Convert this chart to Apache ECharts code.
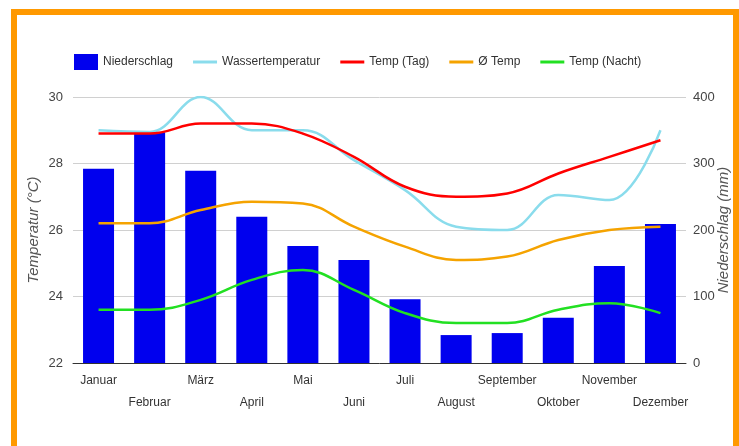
<!DOCTYPE html>
<html>
<head>
<meta charset="utf-8">
<script src="https://cdn.jsdelivr.net/npm/echarts@6/dist/echarts.min.js"></script>
<style>
  html, body { margin: 0; padding: 0; background: #fff; }
  #frame {
    position: absolute; left: 11px; top: 9px; width: 728px; height: 460px;
    box-sizing: border-box; border: 6px solid #ff9900; border-bottom: none;
  }
  #chart { position: absolute; left: 0; top: 0; width: 739px; height: 446px; }
</style>
</head>
<body>
<div id="frame"></div>
<div id="chart"></div>
<script>
// Monate
const months = ['Januar', 'Februar', 'März', 'April', 'Mai', 'Juni', 'Juli', 'August', 'September', 'Oktober', 'November', 'Dezember']
// Niederschlag in mm
const niederschlag = [292, 347, 289, 220, 176, 155, 96, 42, 45, 68, 146, 209]
// Temperaturen in °C
const wasserTemp = [29.0, 28.95, 30.0, 29.0, 29.0, 28.1, 27.2, 26.1, 26.0, 27.05, 26.9, 29.0]
const tempTag = [28.9, 28.9, 29.2, 29.2, 28.9, 28.2, 27.3, 27.0, 27.1, 27.7, 28.2, 28.7]
const tempMittel = [26.2, 26.2, 26.6, 26.85, 26.8, 26.1, 25.5, 25.1, 25.2, 25.7, 26.0, 26.1]
const tempNacht = [23.6, 23.6, 23.9, 24.5, 24.8, 24.2, 23.5, 23.2, 23.2, 23.6, 23.8, 23.5]
// Achsen
const tempTicks = [22, 30, 2]
const regenTicks = [0, 400, 100]

const font = "'Liberation Sans', Arial, sans-serif"
// Linie statt Punkt in der Legende
const lineIcon = 'path://M0,0H24V3H0Z'

let chart = echarts.init(document.getElementById('chart'))

function lineSeries (name, data, color) {
  return {
    name: name,
    type: 'line',
    data: data,
    smooth: 0.4,
    symbol: 'none',
    yAxisIndex: 0,
    lineStyle: { color: color, width: 2.5 },
    itemStyle: { color: color }
  }
}

let option = {
  animation: false,
  backgroundColor: 'transparent',
  textStyle: { fontFamily: font },
  legend: {
    left: 69,
    top: 49,
    width: 650,
    itemWidth: 24,
    itemHeight: 16,
    itemGap: 20,
    textStyle: { fontFamily: font, fontSize: 12, color: '#333' },
    data: [
      { name: 'Niederschlag', icon: 'rect' },
      { name: 'Wassertemperatur', icon: lineIcon },
      { name: 'Temp (Tag)', icon: lineIcon },
      { name: 'Ø Temp', icon: lineIcon },
      { name: 'Temp (Nacht)', icon: lineIcon }
    ]
  },
  grid: { left: 73, right: 53, top: 97, bottom: 83, containLabel: false, outerBoundsMode: 'none' },
  xAxis: {
    type: 'category',
    data: months,
    axisLine: { lineStyle: { color: '#333', width: 1 } },
    axisTick: { show: false },
    axisLabel: {
      interval: 0,
      margin: 7,
      fontFamily: font,
      fontSize: 12,
      lineHeight: 22,
      color: '#333',
      formatter: (v, i) => i % 2 ? '\n' + v : v
    }
  },
  yAxis: [
    {
      type: 'value',
      min: tempTicks[0],
      max: tempTicks[1],
      interval: tempTicks[2],
      name: 'Temperatur (°C)',
      nameLocation: 'middle',
      nameRotate: 90,
      nameGap: 32,
      nameMoveOverlap: false,
      nameTextStyle: { fontFamily: font, fontSize: 15, fontStyle: 'italic', color: '#555' },
      axisLine: { show: false },
      axisTick: { show: false },
      axisLabel: { fontFamily: font, fontSize: 13, color: '#444', margin: 10 },
      splitLine: { lineStyle: { color: '#d0d0d0', width: 1 } }
    },
    {
      type: 'value',
      min: regenTicks[0],
      max: regenTicks[1],
      interval: regenTicks[2],
      name: 'Niederschlag (mm)',
      nameLocation: 'middle',
      nameRotate: 90,
      nameGap: 30,
      nameMoveOverlap: false,
      nameTextStyle: { fontFamily: font, fontSize: 15, fontStyle: 'italic', color: '#555' },
      axisLine: { show: false },
      axisTick: { show: false },
      axisLabel: { fontFamily: font, fontSize: 13, color: '#444', margin: 7 },
      splitLine: { show: false }
    }
  ],
  series: [
    {
      name: 'Niederschlag',
      type: 'bar',
      yAxisIndex: 1,
      data: niederschlag,
      barWidth: 31,
      itemStyle: { color: '#0000ee' }
    },
    lineSeries('Wassertemperatur', wasserTemp, '#8adcec'),
    lineSeries('Temp (Tag)', tempTag, '#ff0000'),
    lineSeries('Ø Temp', tempMittel, '#f5a300'),
    lineSeries('Temp (Nacht)', tempNacht, '#22e022')
  ]
}

chart.setOption(option)
</script>
</body>
</html>
